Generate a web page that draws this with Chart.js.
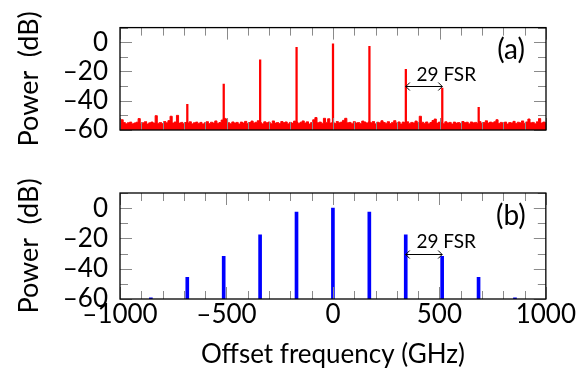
<!DOCTYPE html>
<html>
<head>
<meta charset="utf-8">
<script src="https://cdn.jsdelivr.net/npm/chart.js@4"></script>
<style>
  html, body { margin: 0; padding: 0; background: #fff; }
  #wrap { position: relative; width: 576px; height: 376px; }
  #chartA { position: absolute; left: 0; top: 0; }
  #chartB { position: absolute; left: 0; top: 165px; }
</style>
</head>
<body>
<div id="wrap">
  <canvas id="chartA" width="576" height="165"></canvas>
  <canvas id="chartB" width="576" height="211"></canvas>
</div>
<script>
// Axis ticks
const xTickLabels = [-1000, -500, 0, 500, 1000];
const yTickLabels = [-60, -40, -20, 0];

// (a) measured spectrum: noise floor sampled every 10 GHz from -1000 GHz
const noiseStart = -1000;
const noiseStep = 10;
const noiseA = [
  -55.4, -53.0, -54.9, -55.7, -55.0, -54.6, -55.8, -55.2, -54.7, -52.2,
  -55.5, -55.0, -54.3, -55.9, -55.1, -54.6, -55.3, -50.2, -55.4, -54.9,
  -55.6, -54.2, -55.1, -53.6, -50.6, -55.2, -54.5, -50.0, -55.3, -54.8,
  -55.7, -54.9, -55.2, -54.4, -55.8, -55.0, -54.6, -55.5, -54.8, -55.9,
  -55.1, -54.3, -55.6, -54.7, -55.2, -53.8, -55.4, -54.9, -53.2, -52.0,
  -52.4, -55.0, -55.7, -54.5, -55.3, -54.8, -55.9, -54.6, -55.2, -54.1,
  -55.5, -54.9, -53.9, -55.2, -54.7, -53.6, -55.0, -55.8, -54.4, -55.1,
  -54.6, -55.7, -53.8, -55.3, -54.9, -55.6, -54.2, -55.0, -54.5, -55.8,
  -54.8, -55.3, -53.9, -54.6, -55.5, -54.7, -53.8, -55.2, -54.4, -55.9,
  -54.9, -53.0, -51.5, -55.1, -54.6, -55.4, -52.0, -54.8, -52.3, -55.3,
  -54.7, -55.6, -54.2, -55.0, -54.6, -53.4, -52.0, -55.1, -54.8, -55.7,
  -54.3, -55.2, -54.9, -55.5, -53.9, -54.6, -55.3, -54.5, -55.0, -54.2,
  -55.8, -54.7, -55.1, -53.7, -54.9, -55.4, -54.3, -55.6, -54.8, -53.6,
  -55.2, -54.5, -55.9, -54.6, -55.0, -54.4, -55.5, -54.8, -55.2, -53.9,
  -55.1, -50.6, -54.7, -55.4, -54.5, -55.8, -54.9, -53.5, -52.5, -55.3,
  -54.6, -55.0, -55.7, -54.4, -55.2, -54.8, -55.9, -54.6, -55.3, -54.9,
  -55.5, -54.2, -55.0, -54.7, -55.8, -54.5, -55.1, -54.8, -55.4, -54.3,
  -55.6, -54.9, -53.7, -55.2, -54.6, -55.0, -54.4, -53.0, -55.5, -54.8,
  -55.3, -54.6, -55.9, -54.9, -55.2, -54.1, -55.6, -54.7, -55.0, -53.8,
  -55.4, -54.5, -52.5, -55.1, -54.8, -55.7, -54.4, -52.2, -55.2, -54.6,
  -55.0
];
const combA = [-684, -513, -342, -171, 0, 171, 342, 513, 684];
const peaksA = [-42.5, -28.6, -12.0, -3.5, -1.1, -2.8, -18.5, -31.4, -44.5];

// (b) simulated comb lines
const combB = [-855, -684, -513, -342, -171, 0, 171, 342, 513, 684, 855];
const peaksB = [-59.3, -45.7, -31.9, -17.6, -2.6, 0, -2.6, -17.6, -31.9, -45.7, -59.3];

// 29 FSR annotation
const fsrFrom = 342;
const fsrTo = 513;
const fsrLevel = -30;

const FONT = 'Lato, "DejaVu Sans", sans-serif';
const INK = '#000';

const fmt = v => (v < 0 ? '\u2013' + Math.abs(v) : String(v));

function xScale(showLabels, height) {
    return {
        type: 'linear',
        min: -1000,
        max: 1000,
        offset: false,
        grid: { display: false, drawTicks: false },
        border: { display: false },
        afterBuildTicks: s => { s.ticks = xTickLabels.map(v => ({ value: v })); },
        ticks: {
            display: showLabels,
            autoSkip: false,
            maxRotation: 0,
            padding: 0,
            color: INK,
            font: { family: FONT, size: 26 },
            callback: v => fmt(v)
        },
        title: {
            display: showLabels,
            text: 'Offset frequency (GHz)',
            color: INK,
            font: { family: FONT, size: 26 },
            padding: { top: 0, bottom: 6 }
        },
        afterFit: s => { s.height = height; }
    };
}

function yScale() {
    return {
        min: -60,
        max: 10,
        grid: { display: false, drawTicks: false },
        border: { display: false },
        afterBuildTicks: s => { s.ticks = yTickLabels.map(v => ({ value: v })); },
        ticks: {
            autoSkip: false,
            padding: 12,
            color: INK,
            font: { family: FONT, size: 26 },
            callback: v => fmt(v)
        },
        title: {
            display: true,
            text: 'Power\u2002(dB)',
            color: INK,
            font: { family: FONT, size: 27 },
            padding: { top: 13, bottom: 0 }
        },
        afterFit: s => { s.width = 120; }
    };
}

// inward tick marks, frame box and text annotations
const framePlugin = {
    id: 'frame',
    afterDatasetsDraw(chart, args, opts) {
        const { ctx, chartArea: a, scales: { x, y } } = chart;
        ctx.save();
        ctx.strokeStyle = '#8a8a8a';
        ctx.lineWidth = 1;
        ctx.beginPath();
        for (let v = -1000; v <= 1000; v += 100) {
            const px = Math.round(x.getPixelForValue(v)) + 0.5;
            const len = v % 500 === 0 ? 12 : 8;
            ctx.moveTo(px, a.top); ctx.lineTo(px, a.top + len);
            ctx.moveTo(px, a.bottom); ctx.lineTo(px, a.bottom - len);
        }
        for (let v = -60; v <= 10; v += 10) {
            const py = Math.round(y.getPixelForValue(v)) + 0.5;
            const len = v % 20 === 0 ? 12 : 8;
            ctx.moveTo(a.left, py); ctx.lineTo(a.left + len, py);
            ctx.moveTo(a.right, py); ctx.lineTo(a.right - len, py);
        }
        ctx.stroke();

        ctx.strokeStyle = INK;
        ctx.lineWidth = 1.3;
        ctx.strokeRect(a.left, a.top, a.right - a.left, a.bottom - a.top);

        // 29 FSR double arrow
        const x1 = x.getPixelForValue(fsrFrom);
        const x2 = x.getPixelForValue(fsrTo);
        const ya = Math.round(y.getPixelForValue(fsrLevel)) + 0.5;
        ctx.lineWidth = 1;
        ctx.beginPath();
        ctx.moveTo(x1, ya); ctx.lineTo(x2, ya);
        ctx.moveTo(x1 + 4, ya - 4); ctx.lineTo(x1, ya); ctx.lineTo(x1 + 4, ya + 4);
        ctx.moveTo(x2 - 4, ya - 4); ctx.lineTo(x2, ya); ctx.lineTo(x2 - 4, ya + 4);
        ctx.stroke();

        ctx.fillStyle = INK;
        ctx.font = '19px ' + FONT;
        ctx.textAlign = 'left';
        ctx.textBaseline = 'middle';
        ctx.fillText('29 FSR', x.getPixelForValue(392), y.getPixelForValue(-22.5));

        ctx.font = '28px ' + FONT;
        ctx.textAlign = 'center';
        ctx.fillText(opts.label, x.getPixelForValue(836), y.getPixelForValue(-5));
        ctx.restore();
    }
};

const commonPlugins = label => ({
    legend: { display: false },
    tooltip: { enabled: false },
    frame: { label: label }
});

new Chart(document.getElementById('chartA'), {
    type: 'bar',
    data: {
        datasets: [
            {
                type: 'bar',
                data: combA.map((f, i) => ({ x: f, y: [-60, peaksA[i]] })),
                backgroundColor: '#ff0000',
                barThickness: 1.6,
                grouped: false
            },
            {
                type: 'line',
                data: noiseA.map((p, i) => ({ x: noiseStart + i * noiseStep, y: p })),
                borderColor: '#ff0000',
                backgroundColor: '#ff0000',
                borderWidth: 1,
                pointRadius: 0,
                stepped: 'middle',
                fill: 'start'
            }
        ]
    },
    options: {
        responsive: false,
        animation: false,
        layout: { padding: { top: 24, right: 30, left: 0, bottom: 0 } },
        scales: { x: xScale(false, 35), y: yScale() },
        plugins: commonPlugins('(a)')
    },
    plugins: [framePlugin]
});

new Chart(document.getElementById('chartB'), {
    type: 'bar',
    data: {
        datasets: [{
            data: combB.map((f, i) => ({ x: f, y: [-60, peaksB[i]] })),
            backgroundColor: '#0000ff',
            barThickness: 3,
            grouped: false
        }]
    },
    options: {
        responsive: false,
        animation: false,
        layout: { padding: { top: 28, right: 30, left: 0, bottom: 0 } },
        scales: { x: xScale(true, 77), y: yScale() },
        plugins: commonPlugins('(b)')
    },
    plugins: [framePlugin]
});
</script>
</body>
</html>
